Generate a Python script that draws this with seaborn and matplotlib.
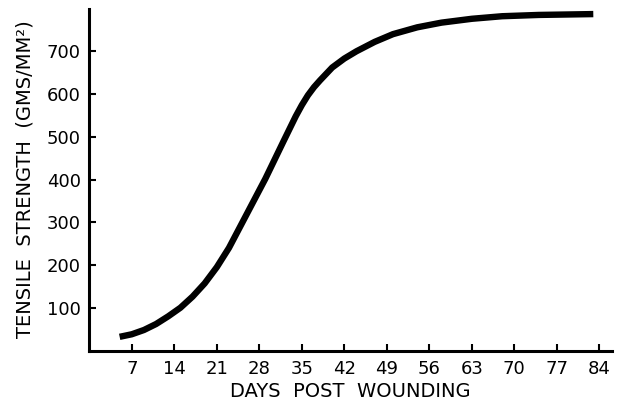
import matplotlib
matplotlib.use("Agg")
import matplotlib.pyplot as plt
import seaborn as sns
import pandas as pd

# values
days = [5, 7, 9, 11, 13, 15, 17, 19, 21, 23, 26, 29, 32, 34, 35, 36, 37, 38,
        40, 42, 44, 47, 50, 54, 58, 63, 68, 74, 83]
strength = [32, 38, 48, 62, 80, 100, 126, 157, 195, 240, 321, 402, 490, 548, 574, 597, 616, 632,
            662, 683, 700, 722, 740, 756, 767, 776, 782, 785, 787]

x_ticks = [7, 14, 21, 28, 35, 42, 49, 56, 63, 70, 77, 84]
y_ticks = [100, 200, 300, 400, 500, 600, 700]

sns.set_style("ticks")
plt.rcParams['font.family'] = ['DejaVu Sans']

df = pd.DataFrame({'day': days, 'strength': strength})

fig = plt.figure(figsize=(6.18, 4.04), dpi=100)
ax = fig.add_axes([0.1445, 0.1324, 0.845, 0.8465])

sns.lineplot(data=df, x='day', y='strength', ax=ax, color='black',
             linewidth=4.6, solid_capstyle='butt', solid_joinstyle='round')

ax.set_xlim(0, 86)
ax.set_ylim(0, 800)
ax.set_xticks(x_ticks)
ax.set_yticks(y_ticks)
ax.tick_params(direction='in', length=5, width=1.5, labelsize=13,
               colors='black', labelcolor='black')
ax.tick_params(axis='x', pad=7)
ax.tick_params(axis='y', pad=6)

for side in ['top', 'right']:
    ax.spines[side].set_visible(False)
for side in ['left', 'bottom']:
    ax.spines[side].set_linewidth(2.2)
    ax.spines[side].set_color('black')

ax.set_xlabel('DAYS  POST  WOUNDING', fontsize=14, labelpad=3, color='black')
ax.set_ylabel('TENSILE  STRENGTH  (GMS/MM²)', fontsize=14, labelpad=9, color='black')

plt.savefig('out.png', dpi=100)
